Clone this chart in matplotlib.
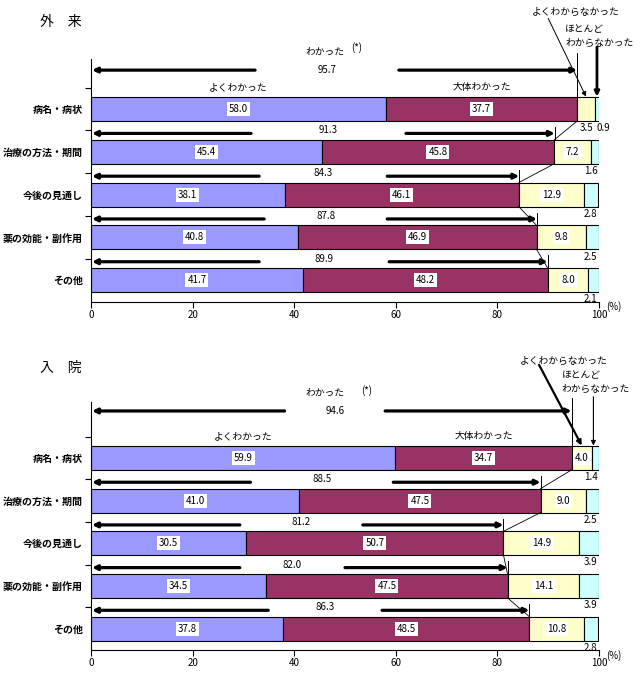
import numpy as np
import matplotlib
matplotlib.use('Agg')
import matplotlib.pyplot as plt

plt.rcParams['font.family'] = ['Noto Sans CJK JP', 'DejaVu Sans']

# ---------------- data ----------------
categories = ['病名・病状', '治療の方法・期間', '今後の見通し', '薬の効能・副作用', 'その他']
series_names = ['よくわかった', '大体わかった', 'よくわからなかった', 'ほとんど\nわからなかった']

out_well = [58.0, 45.4, 38.1, 40.8, 41.7]
out_mostly = [37.7, 45.8, 46.1, 46.9, 48.2]
out_notwell = [3.5, 7.2, 12.9, 9.8, 8.0]
out_hardly = [0.9, 1.6, 2.8, 2.5, 2.1]
out_total = [95.7, 91.3, 84.3, 87.8, 89.9]

in_well = [59.9, 41.0, 30.5, 34.5, 37.8]
in_mostly = [34.7, 47.5, 50.7, 47.5, 48.5]
in_notwell = [4.0, 9.0, 14.9, 14.1, 10.8]
in_hardly = [1.4, 2.5, 3.9, 3.9, 2.8]
in_total = [94.6, 88.5, 81.2, 82.0, 86.3]

xticks = [0, 20, 40, 60, 80, 100]

# ---------------- layout / style ----------------
colors = ['#9999FF', '#993366', '#FFFFCC', '#CCFFFF']
W, H = 643, 700
fig = plt.figure(figsize=(W / 100, H / 100), dpi=100)

def make_axes(top_px, bottom_px):
    return fig.add_axes([91 / W, 1 - bottom_px / H, 508 / W, (bottom_px - top_px) / H])

ax_out = make_axes(59, 301.5)
ax_in = make_axes(402, 650)

out_gaps = [(32.3, 60.6), (31.5, 62.0), (33.1, 58.3), (34.1, 58.3), (33.1, 58.7)]
in_gaps = [(38.1, 57.9), (31.4, 59.5), (29.3, 53.5), (29.3, 50.0), (34.9, 57.3)]

FS_NUM = 7
FS_CAT = 7.2
BOX = dict(boxstyle='square,pad=0.2', fc='white', ec='none')


def panel(ax, well, mostly, notwell, hardly, totals, gaps, cfg):
    y = np.arange(len(categories))
    h = 0.56
    series = [well, mostly, notwell, hardly]
    lefts = np.zeros(len(categories))
    for k, (vals, col) in enumerate(zip(series, colors)):
        vals = np.array(vals)
        ax.barh(y, vals, left=lefts, height=h, color=col, edgecolor='black',
                linewidth=0.8, zorder=2)
        for i in range(len(categories)):
            cx = lefts[i] + vals[i] / 2
            if k < 2 or (k == 2 and vals[i] >= 3.8):
                ax.text(cx, y[i], f'{vals[i]:.1f}', ha='center', va='center',
                        fontsize=FS_NUM, bbox=BOX, zorder=4)
            elif k == 2:
                ax.text(97.6, y[i] + 0.45, f'{vals[i]:.1f}', ha='center', va='center',
                        fontsize=FS_NUM, zorder=4)
            else:
                xx = 100.8 if (notwell[i] < 3.8) else 98.4
                ax.text(xx, y[i] + 0.45, f'{vals[i]:.1f}', ha='center', va='center',
                        fontsize=FS_NUM, zorder=4)
        lefts = lefts + vals

    boundary = np.array(well) + np.array(mostly)

    # total arrows
    akw = dict(arrowstyle='-|>', lw=2.3, color='black', mutation_scale=7,
               shrinkA=0, shrinkB=0)
    for i, t in enumerate(totals):
        if i == 0:
            ay = cfg['arrow_y0']
            ty = ay
        else:
            ay = i - 0.43
            ty = i - 0.5
        gl, gr = gaps[i]
        ax.annotate('', xy=(0.2, ay), xytext=(gl, ay), arrowprops=akw,
                    annotation_clip=False, zorder=5)
        ax.annotate('', xy=(t, ay), xytext=(gr, ay), arrowprops=akw,
                    annotation_clip=False, zorder=5)
        ax.text((gl + gr) / 2, ty, f'{t:.1f}', ha='center', va='center',
                fontsize=FS_NUM, zorder=5)
        vtop = cfg['vline0'] if i == 0 else i - 0.58
        ax.plot([t, t], [vtop, i - 0.28], color='black', lw=0.7, clip_on=False, zorder=3)
        if i > 0:
            ax.plot([boundary[i - 1], boundary[i]], [i - 1 + 0.28, i - 0.28],
                    color='black', lw=0.6, clip_on=False, zorder=3)

    # header annotations
    ax.text(46, cfg['wakatta_y'], 'わかった', ha='center', va='center', fontsize=FS_NUM)
    ax.text(cfg['star_x'], cfg['star_y'], '(*)', ha='center', va='center',
            fontsize=FS_NUM)
    ax.text(well[0] / 2, -0.52, series_names[0], ha='center', va='center', fontsize=FS_NUM)
    ax.text(well[0] + mostly[0] / 2, -0.52, series_names[1], ha='center', va='center',
            fontsize=FS_NUM)

    ax.text(cfg['nw_text'][0], cfg['nw_text'][1], series_names[2], ha='center',
            va='center', fontsize=FS_NUM)
    ax.annotate('', xy=(well[0] + mostly[0] + notwell[0] / 2, -0.29),
                xytext=cfg['nw_from'],
                arrowprops=dict(arrowstyle='-|>', lw=cfg['nw_lw'], color='black',
                                mutation_scale=7, shrinkA=0, shrinkB=0),
                annotation_clip=False)
    ax.text(cfg['hd_text'][0], cfg['hd_text'][1], series_names[3], ha='left',
            va='center', fontsize=FS_NUM, linespacing=1.4)
    hx = cfg['hd_x']
    ax.annotate('', xy=(hx, -0.29), xytext=(hx, cfg['hd_from_y']),
                arrowprops=dict(arrowstyle='-|>', lw=cfg['hd_lw'], color='black',
                                mutation_scale=7, shrinkA=0, shrinkB=0),
                annotation_clip=False)

    # axes styling
    ax.set_xlim(0, 100)
    ax.set_ylim(4.5, cfg['ytop'])
    ax.spines['top'].set_visible(False)
    ax.spines['right'].set_visible(False)
    ax.spines['left'].set_linewidth(0.8)
    ax.spines['bottom'].set_linewidth(0.8)
    ax.set_yticks(y)
    ax.set_yticklabels(categories, fontsize=FS_CAT, fontweight='bold')
    ax.tick_params(axis='y', length=0, pad=6)
    ax.set_yticks(np.arange(-0.5, 4.0, 1.0), minor=True)
    ax.tick_params(axis='y', which='minor', length=4, width=0.8)
    ax.set_xticks(xticks)
    ax.set_xticklabels([str(v) for v in xticks], fontsize=FS_NUM)
    ax.tick_params(axis='x', length=4, width=0.8, pad=2)
    ax.text(103, 4.62, '(%)', ha='center', va='center', fontsize=FS_NUM)


panel(ax_out, out_well, out_mostly, out_notwell, out_hardly, out_total, out_gaps,
      dict(arrow_y0=-0.91, vline0=-1.3, wakatta_y=-1.33, star_x=52.3, star_y=-1.43,
           nw_text=(95.5, -2.27), nw_from=(90.0, -2.12), nw_lw=0.7,
           hd_text=(93.3, -1.71), hd_x=99.6, hd_from_y=-1.45, hd_lw=2.0,
           ytop=-1.17))

panel(ax_in, in_well, in_mostly, in_notwell, in_hardly, in_total, in_gaps,
      dict(arrow_y0=-1.1, vline0=-1.4, wakatta_y=-1.52, star_x=54.3, star_y=-1.59,
           nw_text=(93.1, -2.27), nw_from=(88.2, -2.18), nw_lw=1.6,
           hd_text=(92.6, -1.78), hd_x=98.9, hd_from_y=-1.43, hd_lw=0.8,
           ytop=-1.31))

fig.text(40 / W, 1 - 22 / H, '外　来', ha='left', va='center', fontsize=10)
fig.text(40 / W, 1 - 368 / H, '入　院', ha='left', va='center', fontsize=10)

fig.savefig('out.png', dpi=100)
